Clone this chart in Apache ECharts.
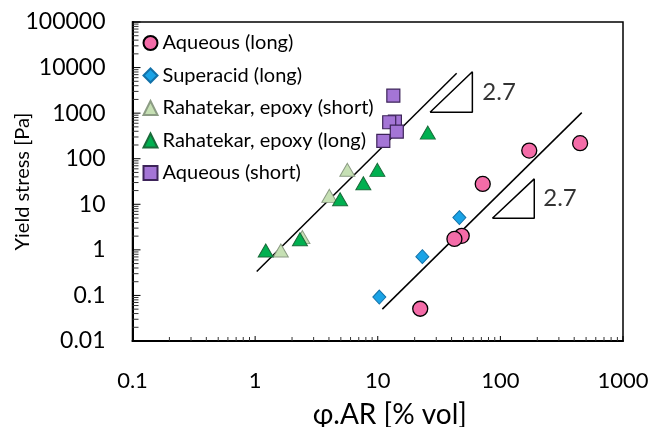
<!DOCTYPE html>
<html>
<head>
<meta charset="utf-8">
<script src="https://cdn.jsdelivr.net/npm/echarts@6/dist/echarts.min.js"></script>
<style>
html,body{margin:0;padding:0;background:#fff;}
#chart{width:660px;height:427px;}
</style>
</head>
<body>
<div id="chart"></div>
<script>
// ---- data ----
const seriesNames = ['Aqueous (long)', 'Superacid (long)', 'Rahatekar, epoxy (short)', 'Rahatekar, epoxy (long)', 'Aqueous (short)'];
const aqueousLong = [[447, 219], [172, 151], [71.8, 28], [48.4, 2.03], [42.2, 1.74], [22.2, 0.051]];
const superacidLong = [[46.3, 5.1], [23.1, 0.71], [10.3, 0.092]];
const rahatekarShort = [[5.65, 57], [4.03, 15.3], [2.43, 1.9], [1.62, 0.97]];
const rahatekarLong = [[25.6, 374], [9.93, 56.8], [7.63, 29], [4.93, 12.9], [2.32, 1.71], [1.22, 0.97]];
const aqueousShort = [[13.8, 651], [13.4, 2420], [12.4, 631], [14.3, 393], [11.1, 246]];
const fitLeft = [[1.03, 0.334], [44, 7500]];
const fitRight = [[10.9, 0.050], [461, 1026]];
const slopeTriLeft = [[26.7, 1047], [59.1, 1047], [59.1, 8130], [26.7, 1047]];
const slopeTriRight = [[86.1, 4.95], [189, 4.95], [189, 36.1], [86.1, 4.95]];
const slopeLabelLeft = [[59.1, 2917]];
const slopeLabelRight = [[189, 13.4]];
const slopeText = '2.7';
const xTickLabels = ['0.1', '1', '10', '100', '1000'];
const yTickLabels = ['0.01', '0.1', '1', '10', '100', '1000', '10000', '100000'];
const xTitle = 'φ.AR [% vol]';
const yTitle = 'Yield stress [Pa]';

// ---- axis tick positions (decoration) ----
const xMin = 0.1, xMax = 1000, yMin = 0.01, yMax = 100000;
function tickList(lo, hi) {
  const out = [];
  for (let e = Math.round(Math.log10(lo)); e < Math.round(Math.log10(hi)); e++) {
    const base = Math.pow(10, e);
    out.push([base, 2]);
    for (let k = 2; k <= 9; k++) out.push([k * base, 1]);
  }
  out.push([hi, 2]);
  return out;
}
const xTickData = tickList(xMin, xMax);
const yTickData = tickList(yMin, yMax);

const FONT = 'Lato';
const chart = echarts.init(document.getElementById('chart'), null, {renderer: 'canvas'});

function labelFmt(list) {
  return function (v) {
    const e = Math.round(Math.log10(v));
    const idx = list.findIndex(s => Math.round(Math.log10(parseFloat(s))) === e);
    return idx >= 0 ? list[idx] : '';
  };
}
const lineStyleBlack = {color: '#000', width: 1.5};
function lineSeries(data) {
  return {type: 'line', data: data, symbol: 'none', silent: true, z: 2, lineStyle: lineStyleBlack, animation: false};
}
const option = {
  backgroundColor: '#fff',
  animation: false,
  textStyle: {fontFamily: FONT},
  grid: {left: 132.5, right: 37, top: 22, bottom: 86, containLabel: false, outerBoundsMode: 'none',
    show: true, borderColor: '#000', borderWidth: 1.5},
  legend: {
    data: seriesNames, orient: 'vertical', left: 137.5, top: 28,
    itemWidth: 14, itemHeight: 14, itemGap: 12.5,
    textStyle: {fontFamily: FONT, fontSize: 20, color: '#000', lineHeight: 20}, selectedMode: false
  },
  xAxis: {
    type: 'log', logBase: 10, min: xMin, max: xMax, splitNumber: 4,
    axisLine: {show: true, onZero: false, lineStyle: {color: '#000', width: 2}},
    axisTick: {show: false}, minorTick: {show: false}, splitLine: {show: false},
    axisLabel: {fontFamily: FONT, fontSize: 22, color: '#000', margin: 29, lineHeight: 22, formatter: labelFmt(xTickLabels)},
    name: xTitle, nameLocation: 'middle', nameGap: 60, nameMoveOverlap: false,
    nameTextStyle: {fontFamily: FONT, fontSize: 28, color: '#000', padding: [0, 0, 0, 24]}
  },
  yAxis: {
    type: 'log', logBase: 10, min: yMin, max: yMax, splitNumber: 7,
    axisLine: {show: true, onZero: false, lineStyle: {color: '#000', width: 2}},
    axisTick: {show: false}, minorTick: {show: false}, splitLine: {show: false},
    axisLabel: {fontFamily: FONT, fontSize: 23, color: '#000', margin: 27, formatter: labelFmt(yTickLabels)},
    name: yTitle, nameLocation: 'middle', nameGap: 100, nameMoveOverlap: false,
    nameTextStyle: {fontFamily: FONT, fontSize: 20, color: '#000'}
  },
  series: [
    lineSeries(fitLeft), lineSeries(fitRight), lineSeries(slopeTriLeft), lineSeries(slopeTriRight),
    {type: 'scatter', data: slopeLabelLeft, symbolSize: 0, silent: true,
      label: {show: true, position: 'right', distance: 10, formatter: slopeText, fontFamily: FONT, fontSize: 24, color: '#000'}},
    {type: 'scatter', data: slopeLabelRight, symbolSize: 0, silent: true,
      label: {show: true, position: 'right', distance: 9, formatter: slopeText, fontFamily: FONT, fontSize: 24, color: '#000'}},
    {name: seriesNames[0], type: 'scatter', data: aqueousLong, symbol: 'circle', symbolSize: 15, z: 3,
      itemStyle: {color: '#f46ca8', borderColor: '#000', borderWidth: 1.3, opacity: 1}},
    {name: seriesNames[1], type: 'scatter', data: superacidLong, symbol: 'diamond', symbolSize: [13, 14], z: 3,
      itemStyle: {color: '#1aa3e6', borderColor: '#1271a8', borderWidth: 1, opacity: 1}},
    {name: seriesNames[2], type: 'scatter', data: rahatekarShort, symbol: 'triangle', symbolSize: [15, 13], z: 3,
      itemStyle: {color: '#c6e0b4', borderColor: '#8c9c84', borderWidth: 1, opacity: 1}},
    {name: seriesNames[3], type: 'scatter', data: rahatekarLong, symbol: 'triangle', symbolSize: [15, 13], z: 3,
      itemStyle: {color: '#00b050', borderColor: '#1a6b3a', borderWidth: 1, opacity: 1}},
    {name: seriesNames[4], type: 'scatter', data: aqueousShort, symbol: 'rect', symbolSize: 13, z: 3,
      itemStyle: {color: '#a475d6', borderColor: '#3d2459', borderWidth: 1.2, opacity: 1}}
  ]
};
chart.setOption(option);

// ---- log ticks (inside), positioned through the chart's own axes ----
function px(v) { return chart.convertToPixel({gridIndex: 0}, v); }
const gfx = [];
xTickData.forEach(function (t) {
  const p = px([t[0], yMin]);
  const len = t[1] === 2 ? 5 : 4;
  gfx.push({type: 'line', silent: true, z: 50, shape: {x1: p[0], y1: p[1], x2: p[0], y2: p[1] - len},
    style: {stroke: t[1] === 2 ? '#000' : '#333', lineWidth: 1}});
});
yTickData.forEach(function (t) {
  const p = px([xMin, t[0]]);
  const len = t[1] === 2 ? 8 : 6;
  gfx.push({type: 'line', silent: true, z: 50, shape: {x1: p[0], y1: p[1], x2: p[0] + len, y2: p[1]},
    style: {stroke: t[1] === 2 ? '#000' : '#333', lineWidth: 1}});
});
chart.setOption({graphic: {elements: gfx}});
</script>
</body>
</html>
